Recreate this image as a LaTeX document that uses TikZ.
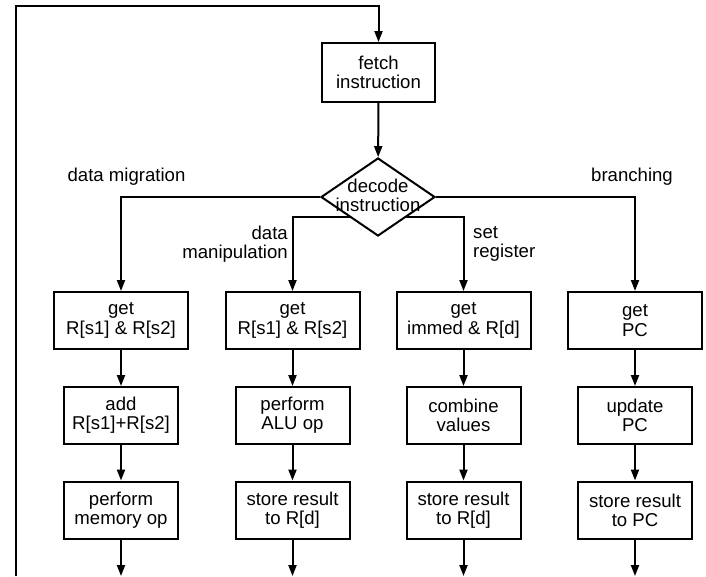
\documentclass[tikz,border=0pt]{standalone}
\usepackage{fontspec}
\setmainfont{Liberation Sans}
\usetikzlibrary{arrows.meta,shapes.geometric,backgrounds}

\begin{document}
\begin{tikzpicture}[x=1pt,y=-1pt,
  every node/.style={font=\fontsize{18.6}{19.2}\selectfont, align=center, inner sep=0pt},
  stepbox/.style={draw, line width=2pt, minimum height=57pt},
  widebox/.style={stepbox, minimum width=134pt},
  narrowbox/.style={stepbox, minimum width=114pt},
  decision/.style={draw, line width=2pt, shape=diamond, fill=white,
                   minimum width=114pt, minimum height=78pt},
  flow/.style={line width=2pt, -{Triangle[length=11pt,width=8pt]}},
  ]
  \useasboundingbox (0,0) rectangle (706,576);

  % fetch and decode
  \node[stepbox, minimum width=113pt, minimum height=59pt] (fetch) at (378.5,72.5) {fetch\\instruction};
  \node[decision] (dec) at (378,197) {};
  \node (dectext) at (378,195) {decode\\instruction};

  % branch labels
  \node (lmig) at (126.5,177) {data migration};
  \node (lbr) at (632,177) {branching};
  \node[anchor=east, align=right] (lman) at (288,244) {data\\manipulation};
  \node[anchor=west, align=left] (lset) at (473,244) {set\\register};

  % first row
  \node[widebox] (b11) at (121,320.5)   {get\\R[s1] \& R[s2]};
  \node[widebox] (b21) at (292.5,320.5) {get\\R[s1] \& R[s2]};
  \node[widebox] (b31) at (463.5,320.5) {get\\immed \& R[d]};
  \node[widebox] (b41) at (635,320.5)   {get\\PC};

  % second row
  \node[narrowbox] (b12) at (121,415.5)   {add\\R[s1]+R[s2]};
  \node[narrowbox] (b22) at (292.5,415.5) {perform\\ALU op};
  \node[narrowbox] (b32) at (463.5,415.5) {combine\\values};
  \node[narrowbox] (b42) at (635,415.5)   {update\\PC};

  % third row
  \node[narrowbox] (b13) at (121,510)   {perform\\memory op};
  \node[narrowbox] (b23) at (292.5,510) {store result\\to R[d]};
  \node[narrowbox] (b33) at (463.5,510) {store result\\to R[d]};
  \node[narrowbox] (b43) at (635,510)   {store result\\to PC};

  % free ends of the connectors
  \coordinate (looptop) at (16,6);
  \coordinate (loopbot) at (16,576);
  \coordinate (fork) at (378,216.7);
  \coordinate (e1) at (121,576);
  \coordinate (e2) at (292.5,576);
  \coordinate (e3) at (463.5,576);
  \coordinate (e4) at (635,576);

  \begin{scope}[on background layer]
    \draw[flow] (loopbot) -- (looptop) -| (fetch.north);
    \draw[flow] (fetch) -- (dec);
    \draw[flow] (dec.west) -| (b11);
    \draw[flow] (dec.east) -| (b41);
    \draw[flow] (fork) -| (b21);
    \draw[flow] (fork) -| (b31);

    \draw[flow] (b11) -- (b12);
    \draw[flow] (b12) -- (b13);
    \draw[flow] (b13) -- (e1);
    \draw[flow] (b21) -- (b22);
    \draw[flow] (b22) -- (b23);
    \draw[flow] (b23) -- (e2);
    \draw[flow] (b31) -- (b32);
    \draw[flow] (b32) -- (b33);
    \draw[flow] (b33) -- (e3);
    \draw[flow] (b41) -- (b42);
    \draw[flow] (b42) -- (b43);
    \draw[flow] (b43) -- (e4);
  \end{scope}
\end{tikzpicture}
\end{document}
